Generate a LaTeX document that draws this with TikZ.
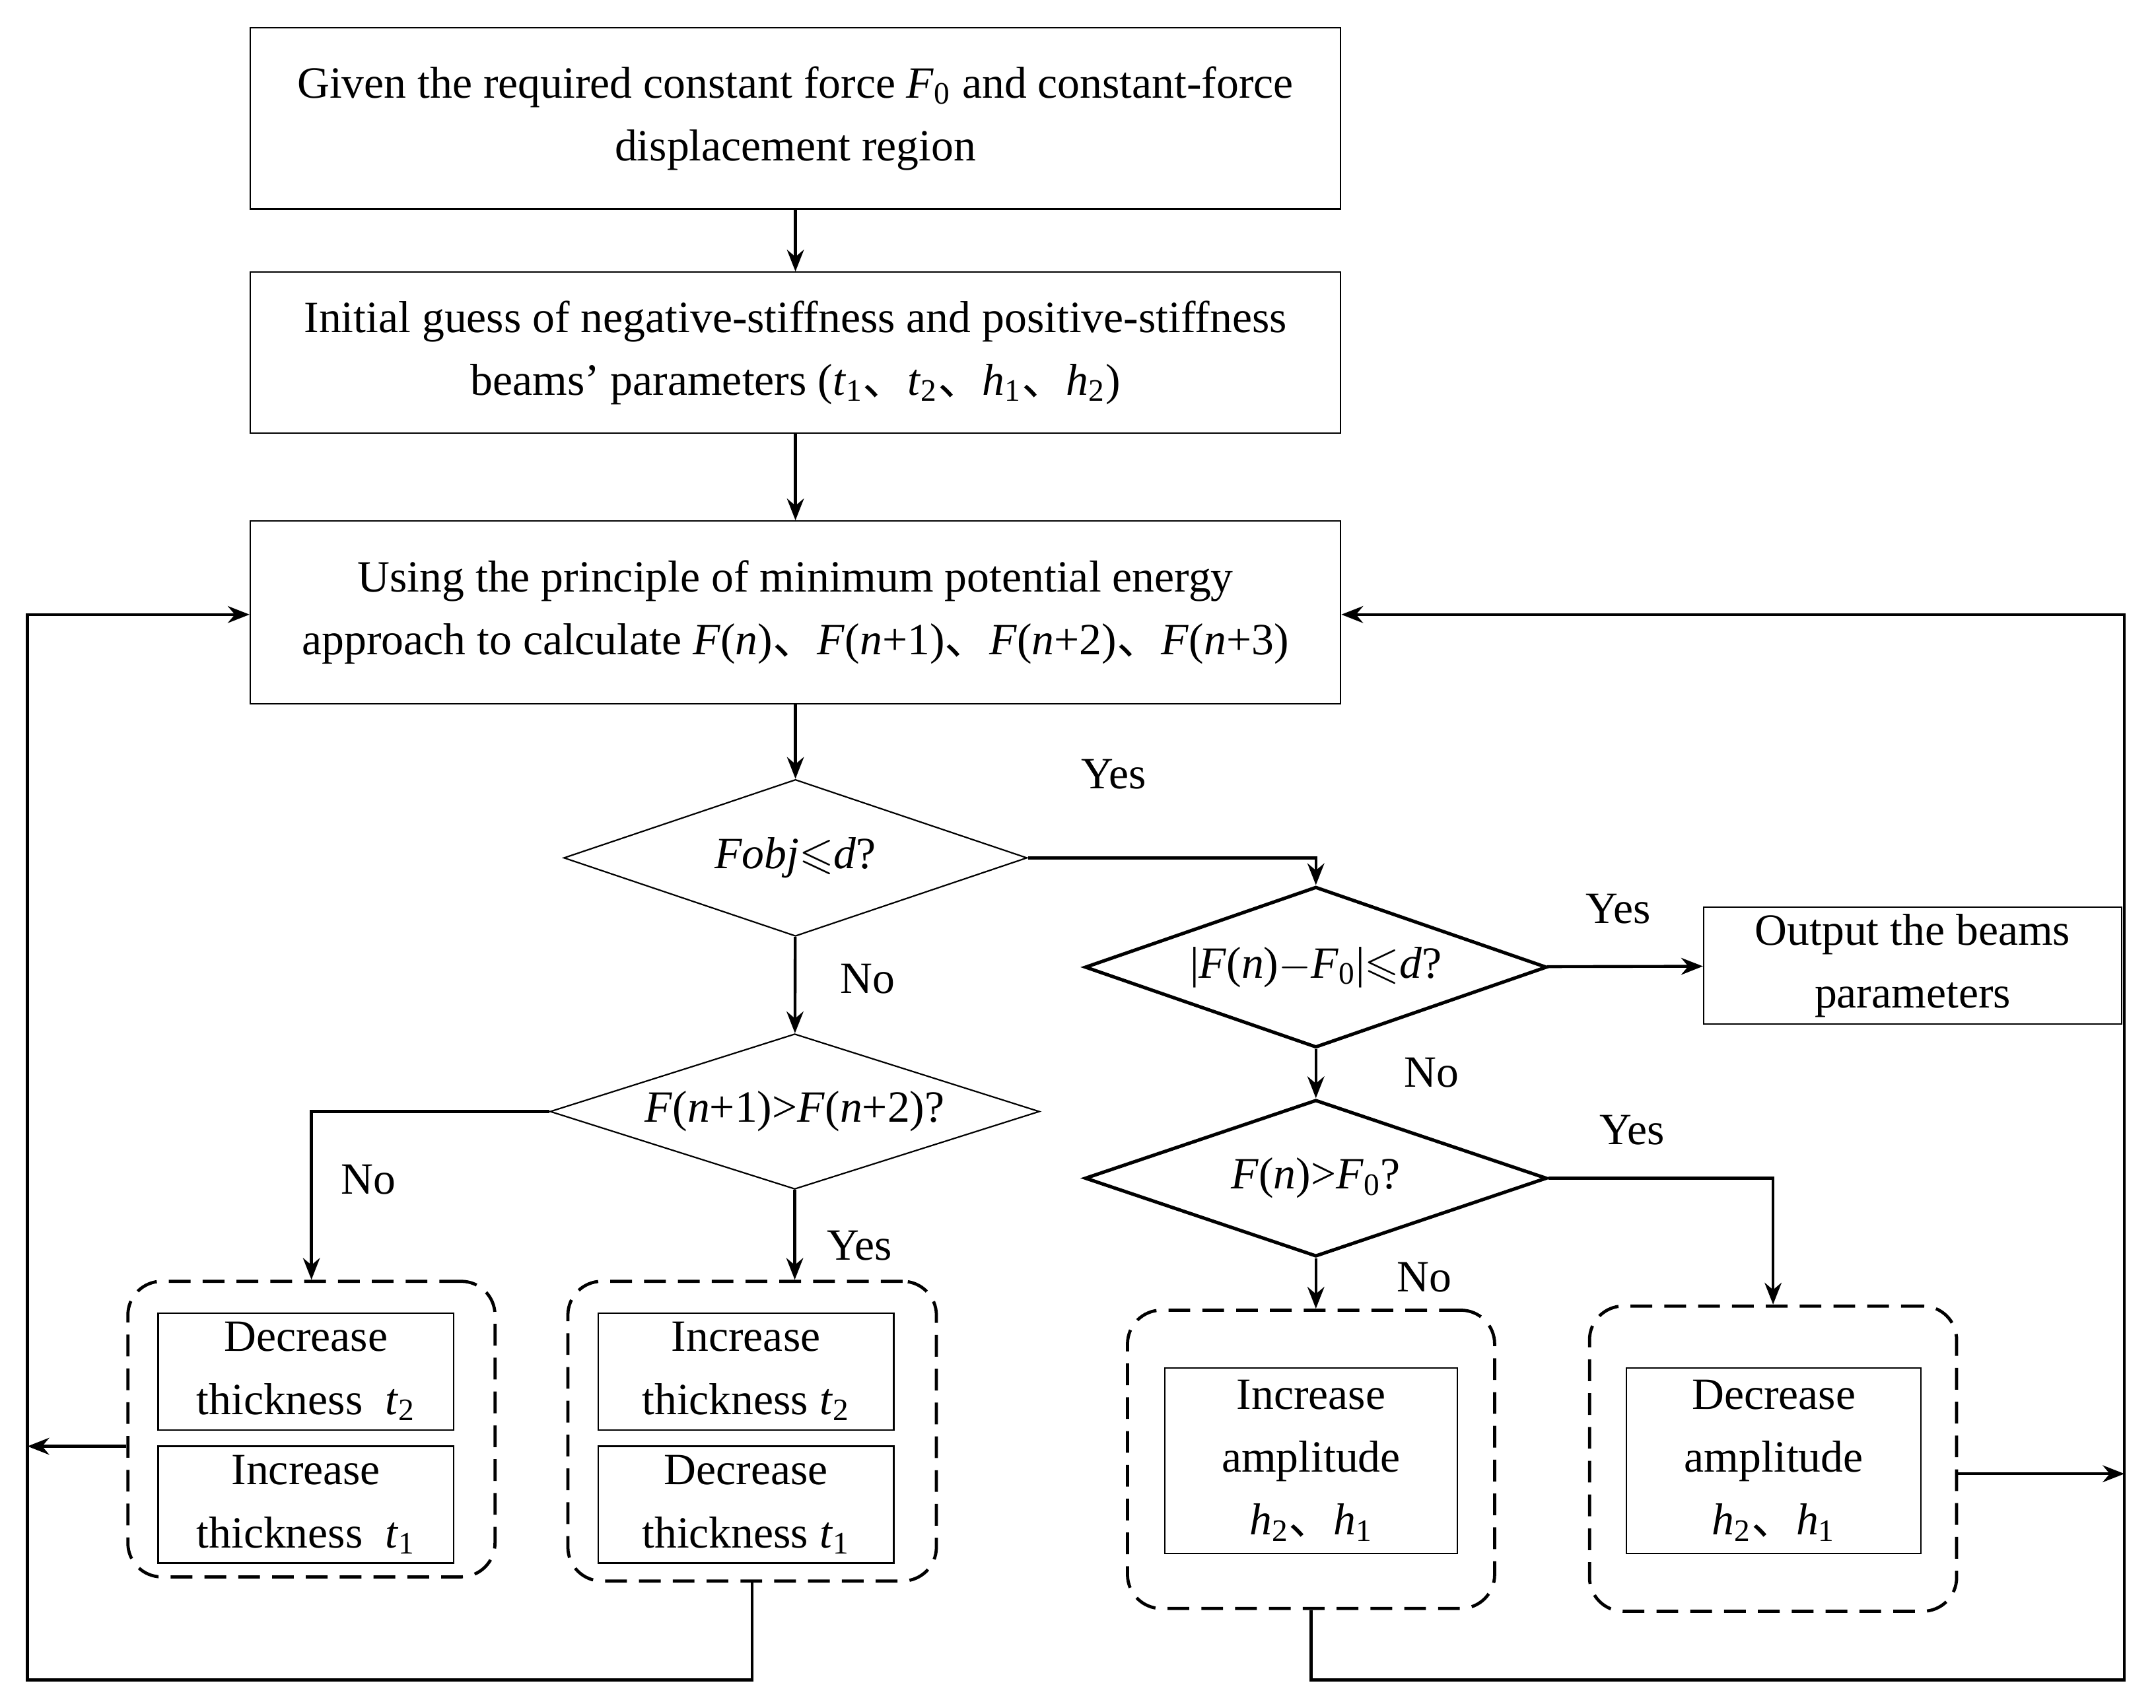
\documentclass[tikz,border=0pt]{standalone}
\usepackage{amssymb}
\usepackage{fontspec}
\setmainfont{Liberation Serif}
\newfontfamily\cjk{Noto Sans CJK SC}
\newcommand{\dn}{{\cjk 、}}
\newcommand{\iv}[1]{\textit{#1}}
\newcommand{\sbs}[1]{\textsubscript{#1}}
\usetikzlibrary{shapes.geometric,arrows.meta}
\begin{document}
\begin{tikzpicture}[x=0.02cm,y=-0.02cm,
  every node/.style={font=\fontsize{18.5}{26}\selectfont},
  box/.style={draw,line width=0.6pt,inner sep=0pt,align=center},
  dia/.style={draw,diamond,inner sep=0pt,align=center},
  grp/.style={draw,dashed,line width=1.3pt,rounded corners=14pt,dash pattern=on 9pt off 5pt},
  ln/.style={line width=1.2pt},
  ar/.style={ln,-{Stealth[length=9pt,width=7pt]}},
  lab/.style={font=\fontsize{18.5}{20}\selectfont}]
\useasboundingbox (0,0) rectangle (1568,1242);
\node[box,minimum width=793*0.02cm,minimum height=132*0.02cm] (b1) at (578.5,86) {Given the required constant force \iv{F}\sbs{0} and constant-force\\displacement region};
\node[box,minimum width=793*0.02cm,minimum height=117*0.02cm] (b2) at (578.5,256.5) {Initial guess of negative-stiffness and positive-stiffness\\beams' parameters (\iv{t}\sbs{1}\dn\iv{t}\sbs{2}\dn\iv{h}\sbs{1}\dn\iv{h}\sbs{2})};
\node[box,minimum width=793*0.02cm,minimum height=133*0.02cm] (b3) at (578.5,445.5) {Using the principle of minimum potential energy\\approach to calculate \iv{F}(\iv{n})\dn\iv{F}(\iv{n}+1)\dn\iv{F}(\iv{n}+2)\dn\iv{F}(\iv{n}+3)};
\node[dia,line width=0.6pt,minimum width=337*0.02cm,minimum height=114*0.02cm,aspect=2.96] (d1) at (578.5,624) {\iv{Fobj}$\leqslant$\iv{d}?};
\node[dia,line width=1.4pt,minimum width=336*0.02cm,minimum height=117*0.02cm,aspect=2.87] (d2) at (957,703.5) {|\iv{F}(\iv{n})$-$\iv{F}\sbs{0}|$\leqslant$\iv{d}?};
\node[box,minimum width=304*0.02cm,minimum height=85*0.02cm] (out) at (1391,702.5) {Output the beams\\parameters};
\node[dia,line width=0.6pt,minimum width=356*0.02cm,minimum height=113*0.02cm,aspect=3.15] (d3) at (578,808.5) {\iv{F}(\iv{n}+1)>\iv{F}(\iv{n}+2)?};
\node[dia,line width=1.4pt,minimum width=336*0.02cm,minimum height=114*0.02cm,aspect=2.95] (d4) at (957,857) {\iv{F}(\iv{n})>\iv{F}\sbs{0}?};
% groups
\node[grp,minimum width=267*0.02cm,minimum height=215*0.02cm] (g1) at (226.5,1039.5) {};
\node[box,minimum width=215*0.02cm,minimum height=85*0.02cm] (g1a) at (222.5,997.5) {Decrease\\thickness\ \ \iv{t}\sbs{2}};
\node[box,minimum width=215*0.02cm,minimum height=85*0.02cm] (g1b) at (222.5,1094.5) {Increase\\thickness\ \ \iv{t}\sbs{1}};
\node[grp,minimum width=268*0.02cm,minimum height=218*0.02cm] (g2) at (547,1041) {};
\node[box,minimum width=215*0.02cm,minimum height=85*0.02cm] (g2a) at (542.5,997.5) {Increase\\thickness \iv{t}\sbs{2}};
\node[box,minimum width=215*0.02cm,minimum height=85*0.02cm] (g2b) at (542.5,1094.5) {Decrease\\thickness \iv{t}\sbs{1}};
\node[grp,minimum width=267*0.02cm,minimum height=217*0.02cm] (g3) at (953.5,1061.5) {};
\node[box,minimum width=213*0.02cm,minimum height=135*0.02cm] (g3a) at (953.5,1062.5) {Increase\\amplitude\\\iv{h}\sbs{2}\dn\iv{h}\sbs{1}};
\node[grp,minimum width=267*0.02cm,minimum height=222*0.02cm] (g4) at (1289.5,1061) {};
\node[box,minimum width=214*0.02cm,minimum height=135*0.02cm] (g4a) at (1290,1062.5) {Decrease\\amplitude\\\iv{h}\sbs{2}\dn\iv{h}\sbs{1}};
% coordinates
\coordinate (L) at (20,1052);
\coordinate (LB) at (20,1222);
\coordinate (LT) at (20,447);
\coordinate (RB) at (1545,1222);
\coordinate (RT) at (1545,447);
\coordinate (RM) at (1545,1072);
% arrows
\draw[ar] (b1) -- (b2);
\draw[ar] (b2) -- (b3);
\draw[ar] (b3) -- (d1);
\draw[ar] (d1.east) -| (d2.north);
\draw[ar] (d1) -- (d3);
\draw[ar] (d2) -- (out);
\draw[ar] (d2) -- (d4);
\draw[ar] (d3.west) -| (g1.north);
\draw[ar] (d3.south) -- (d3.south |- g2.north);
\draw[ar] (d4.east) -| (g4.north);
\draw[ar] (d4.south) -- (d4.south |- g3.north);
\draw[ar] (g1.west |- L) -- (L);
\draw[ar] (g4.east |- RM) -- (RM);
\draw[ar] (g2.south) -- (g2.south |- LB) -- (LB) -- (LT) -- (b3.west |- LT);
\draw[ar] (g3.south) -- (g3.south |- RB) -- (RB) -- (RT) -- (b3.east |- RT);
% labels
\node[lab] at (810,563) {Yes};
\node[lab] at (631,712) {No};
\node[lab] at (1177,661) {Yes};
\node[lab] at (1041,780) {No};
\node[lab] at (268,858) {No};
\node[lab] at (625,906) {Yes};
\node[lab] at (1187,822) {Yes};
\node[lab] at (1036,929) {No};
\end{tikzpicture}
\end{document}
